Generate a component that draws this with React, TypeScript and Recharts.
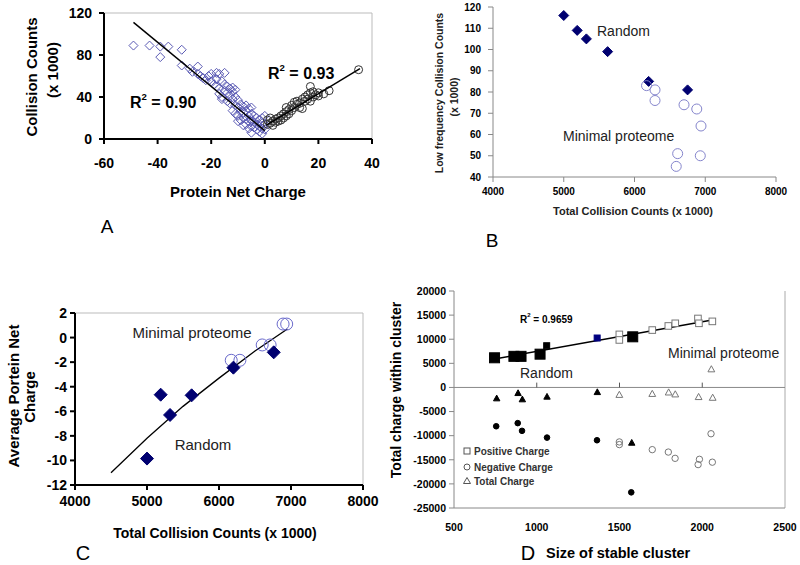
import React from 'react';
import { ScatterChart, Scatter, XAxis, YAxis, ReferenceLine } from 'recharts';

const FONT = '"Liberation Sans", Arial, sans-serif';

// Panel A: collision counts vs protein net charge
const aNegCharge = [-49, -43, -39, -39, -36, -31, -31, -28, -27, -25, -25, -24, -23, -22, -21, -20, -20, -19, -18, -18, -18, -17, -17, -17, -16, -16, -16, -15, -15, -15, -14, -14, -14, -13, -13, -13, -12, -12, -12, -12, -11, -11, -11, -11, -10, -10, -10, -10, -9, -9, -9, -8, -8, -8, -8, -7, -7, -7, -7, -6, -6, -6, -6, -5, -5, -5, -5, -5, -4, -4, -4, -3, -3, -3, -2, -2, -2, -1, -1, -1, -1, 0, 0, 0];
const aNegCounts = [89, 89, 88, 78, 88, 85, 70, 67, 64, 69, 62, 60, 58, 56, 60, 62, 55, 52, 63, 57, 50, 62, 48, 43, 55, 40, 38, 63, 52, 46, 50, 44, 36, 48, 41, 34, 49, 45, 38, 27, 47, 40, 32, 24, 37, 30, 22, 17, 33, 26, 18, 31, 25, 20, 13, 32, 27, 19, 14, 29, 22, 17, 10, 30, 24, 18, 12, 6, 22, 16, 11, 20, 14, 9, 18, 12, 7, 20, 15, 10, 5, 22, 14, 9];
const aPosCharge = [1, 1, 2, 2, 3, 3, 4, 4, 5, 5, 6, 6, 7, 7, 8, 8, 8, 9, 9, 10, 10, 11, 11, 12, 12, 13, 13, 14, 14, 15, 15, 16, 16, 17, 17, 17, 18, 18, 19, 20, 20, 22, 24, 35];
const aPosCounts = [18, 14, 20, 15, 17, 13, 19, 16, 20, 17, 22, 18, 24, 20, 30, 26, 22, 28, 24, 32, 27, 35, 30, 36, 33, 34, 30, 38, 29, 40, 36, 42, 38, 50, 44, 36, 45, 40, 42, 44, 41, 43, 46, 66];
const aNegFitX = [-49, 0];
const aNegFitY = [111, 8];
const aPosFitX = [0.5, 35.5];
const aPosFitY = [13, 67];
const aXTicks = [-60, -40, -20, 0, 20, 40];
const aYTicks = [0, 40, 80, 120];

// Panel B: low frequency vs total collision counts
const bRandomTotal = [5000, 5190, 5320, 5620, 6200, 6750];
const bRandomLow = [116, 109, 105, 99, 85, 81];
const bMinimalTotal = [6170, 6290, 6290, 6700, 6880, 6940, 6610, 6590, 6930];
const bMinimalLow = [83, 81, 76, 74, 72, 64, 51, 45, 50];
const bXTicks = [4000, 5000, 6000, 7000, 8000];
const bYTicks = [40, 50, 60, 70, 80, 90, 100, 110, 120];

// Panel C: average net charge vs total collision counts
const cRandomTotal = [5000, 5190, 5320, 5620, 6200, 6760];
const cRandomCharge = [-9.85, -4.65, -6.3, -4.7, -2.45, -1.2];
const cMinimalTotal = [6170, 6290, 6600, 6710, 6890, 6940];
const cMinimalCharge = [-1.85, -1.85, -0.6, -0.6, 1.1, 1.1];
const cFitX = [4500, 5000, 5500, 6000, 6500, 6950];
const cFitY = [-11, -8.2, -5.6, -3.3, -1.1, 0.7];
const cXTicks = [4000, 5000, 6000, 7000, 8000];
const cYTicks = [-12, -10, -8, -6, -4, -2, 0, 2];

// Panel D: charge within cluster vs cluster size
const dRandPosSize = [745, 862, 905, 1020, 1580];
const dRandPosCharge = [6150, 6450, 6450, 6900, 10500];
const dRandPosSmallSize = [1060];
const dRandPosSmallCharge = [8650];
const dRandPosNavySize = [1365];
const dRandPosNavyCharge = [10250];
const dMinPosSize = [1499, 1499, 1698, 1795, 1837, 1974, 1980, 2061];
const dMinPosCharge = [11000, 9850, 11900, 12750, 13300, 14300, 13300, 13700];
const dRandNegSize = [755, 885, 911, 1062, 1364, 1571];
const dRandNegCharge = [-8050, -7400, -9000, -10400, -10950, -21750];
const dMinNegSize = [1499, 1499, 1698, 1795, 1836, 1983, 1975, 2061, 2053];
const dMinNegCharge = [-11300, -11850, -12900, -13400, -14700, -14900, -16000, -15500, -9600];
const dRandTotSize = [758, 887, 913, 1062, 1366, 1574];
const dRandTotCharge = [-2250, -1150, -2450, -1900, -950, -11450];
const dMinTotSize = [1499, 1698, 1797, 1837, 1978, 2063, 2055];
const dMinTotCharge = [-1500, -1300, -1000, -1400, -1950, -2100, 3800];
const dFitX = [745, 2060];
const dFitY = [5900, 14000];
const dXTicks = [500, 1000, 1500, 2000, 2500];
const dYTicks = [-25000, -20000, -15000, -10000, -5000, 0, 5000, 10000, 15000, 20000];
const dZeroTicks = [1000, 1500, 2000];

const pts = (xs: number[], ys: number[]) => xs.map((x, i) => ({ x, y: ys[i] }));

const diamond = (r: number, fill: string, stroke: string, sw = 1) => (p: any) => (
  <path d={`M${p.cx},${p.cy - r}L${p.cx + r},${p.cy}L${p.cx},${p.cy + r}L${p.cx - r},${p.cy}Z`} fill={fill} stroke={stroke} strokeWidth={sw} />
);
const circle = (r: number, fill: string, stroke: string, sw = 1) => (p: any) => (
  <circle cx={p.cx} cy={p.cy} r={r} fill={fill} stroke={stroke} strokeWidth={sw} />
);
const square = (r: number, fill: string, stroke: string, sw = 1) => (p: any) => (
  <rect x={p.cx - r} y={p.cy - r} width={2 * r} height={2 * r} fill={fill} stroke={stroke} strokeWidth={sw} />
);
const triangle = (r: number, fill: string, stroke: string, sw = 1) => (p: any) => (
  <path d={`M${p.cx},${p.cy - r}L${p.cx + r},${p.cy + r * 0.8}L${p.cx - r},${p.cy + r * 0.8}Z`} fill={fill} stroke={stroke} strokeWidth={sw} />
);
const noDot = () => <g />;

const tickBold = (size: number) => ({ fontSize: size, fontWeight: 'bold', fill: '#000', fontFamily: FONT });

function PanelA() {
  return (
    <ScatterChart width={400} height={280} margin={{ top: 13, right: 28, left: 44, bottom: 107 }}>
      <XAxis type="number" dataKey="x" domain={[-60, 40]} ticks={aXTicks} height={34} stroke="#000" strokeWidth={2}
        tickSize={5} tickMargin={14} tick={tickBold(14)} />
      <YAxis type="number" dataKey="y" domain={[0, 120]} ticks={aYTicks} width={60} stroke="#000" strokeWidth={2}
        tickSize={5} tickMargin={7} tick={tickBold(14)} />
      <ReferenceLine y={120} stroke="#bbb" />
      <ReferenceLine x={40} stroke="#bbb" />
      <Scatter data={pts(aNegCharge, aNegCounts)} shape={diamond(4.5, 'none', '#5a5ab4')} isAnimationActive={false} />
      <Scatter data={pts(aPosCharge, aPosCounts)} shape={circle(4, 'none', '#333')} isAnimationActive={false} />
      <Scatter data={pts(aNegFitX, aNegFitY)} line={{ stroke: '#000', strokeWidth: 1.5 }} shape={noDot} isAnimationActive={false} />
      <Scatter data={pts(aPosFitX, aPosFitY)} line={{ stroke: '#000', strokeWidth: 1.5 }} shape={noDot} isAnimationActive={false} />
    </ScatterChart>
  );
}

function PanelB() {
  return (
    <ScatterChart width={400} height={280} margin={{ top: 7, right: 24, left: 53, bottom: 78 }}>
      <XAxis type="number" dataKey="x" domain={[4000, 8000]} ticks={bXTicks} height={25} stroke="#888"
        tickSize={5} tickMargin={6} tick={tickBold(10)} />
      <YAxis type="number" dataKey="y" domain={[40, 120]} ticks={bYTicks} width={40} stroke="#888"
        tickSize={5} tickMargin={7} tick={tickBold(10)} />
      <Scatter data={pts(bRandomTotal, bRandomLow)} shape={diamond(5, '#000070', '#000070')} isAnimationActive={false} />
      <Scatter data={pts(bMinimalTotal, bMinimalLow)} shape={circle(5, 'none', '#8585cc')} isAnimationActive={false} />
    </ScatterChart>
  );
}

function PanelC() {
  return (
    <ScatterChart width={400} height={275} margin={{ top: 23, right: 37, left: 35, bottom: 50 }}>
      <XAxis type="number" dataKey="x" domain={[4000, 8000]} ticks={cXTicks} height={30} stroke="#000" strokeWidth={2}
        tickSize={5} tickMargin={6} tick={tickBold(14)} />
      <YAxis type="number" dataKey="y" domain={[-12, 2]} ticks={cYTicks} width={40} stroke="#000" strokeWidth={2}
        tickSize={5} tickMargin={3} tick={tickBold(14)} />
      <ReferenceLine y={2} stroke="#bbb" />
      <ReferenceLine x={8000} stroke="#bbb" />
      <Scatter data={pts(cFitX, cFitY)} line={{ stroke: '#000', strokeWidth: 1.3 }} lineType="joint" shape={noDot} isAnimationActive={false} />
      <Scatter data={pts(cMinimalTotal, cMinimalCharge)} shape={circle(6, 'none', '#6a6acc')} isAnimationActive={false} />
      <Scatter data={pts(cRandomTotal, cRandomCharge)} shape={diamond(6.5, '#000070', '#000070')} isAnimationActive={false} />
    </ScatterChart>
  );
}

function PanelD() {
  return (
    <ScatterChart width={400} height={285} margin={{ top: 11, right: 15, left: 4, bottom: 32 }}>
      <XAxis type="number" dataKey="x" domain={[500, 2500]} ticks={dXTicks} height={25} stroke="#888"
        tickLine={false} tickMargin={10} tick={tickBold(10.5)} />
      <YAxis type="number" dataKey="y" domain={[-25000, 20000]} ticks={dYTicks} width={50} stroke="#888"
        tickSize={5} tickMargin={3} tick={tickBold(10.5)} />
      <ReferenceLine x={2500} stroke="#aaa" />
      <ReferenceLine y={0} stroke="#888" />
      {dZeroTicks.map((t) => (
        <ReferenceLine key={t} segment={[{ x: t, y: 0 }, { x: t, y: 1000 }]} stroke="#555" />
      ))}
      <Scatter data={pts(dFitX, dFitY)} line={{ stroke: '#000', strokeWidth: 1.5 }} shape={noDot} isAnimationActive={false} />
      <Scatter data={pts(dRandPosSize, dRandPosCharge)} shape={square(5, '#000', '#000')} isAnimationActive={false} />
      <Scatter data={pts(dRandPosSmallSize, dRandPosSmallCharge)} shape={square(3, '#000', '#000')} isAnimationActive={false} />
      <Scatter data={pts(dRandPosNavySize, dRandPosNavyCharge)} shape={square(3, '#000080', '#000080')} isAnimationActive={false} />
      <Scatter data={pts(dMinPosSize, dMinPosCharge)} shape={square(3.3, '#fff', '#777')} isAnimationActive={false} />
      <Scatter data={pts(dRandNegSize, dRandNegCharge)} shape={circle(2.8, '#000', '#000')} isAnimationActive={false} />
      <Scatter data={pts(dMinNegSize, dMinNegCharge)} shape={circle(3.2, 'none', '#777')} isAnimationActive={false} />
      <Scatter data={pts(dRandTotSize, dRandTotCharge)} shape={triangle(3.2, '#000', '#000')} isAnimationActive={false} />
      <Scatter data={pts(dMinTotSize, dMinTotCharge)} shape={triangle(3.4, 'none', '#777')} isAnimationActive={false} />
    </ScatterChart>
  );
}

function Sup({ x, y, size, value }: { x: number; y: number; size: number; value: string }) {
  return (
    <text x={x} y={y} fontSize={size} fontWeight="bold" dominantBaseline="central">
      R<tspan fontSize={size * 0.6} dy={-size * 0.4}>2</tspan>
      <tspan dy={size * 0.4}>{' = ' + value}</tspan>
    </text>
  );
}

export default function App() {
  return (
    <div style={{ position: 'absolute', left: 0, top: 0, width: 800, height: 565, background: '#fff', fontFamily: FONT }}>
      <div style={{ position: 'absolute', left: 0, top: 0 }}><PanelA /></div>
      <div style={{ position: 'absolute', left: 400, top: 0 }}><PanelB /></div>
      <div style={{ position: 'absolute', left: 0, top: 290 }}><PanelC /></div>
      <div style={{ position: 'absolute', left: 400, top: 280 }}><PanelD /></div>
      <svg width={800} height={565} style={{ position: 'absolute', left: 0, top: 0, pointerEvents: 'none' }} fontFamily={FONT} fill="#000">
        {/* A */}
        <text x={31} y={77} fontSize={15} fontWeight="bold" textAnchor="middle" dominantBaseline="central" transform="rotate(-90 31 77)">Collision Counts</text>
        <text x={52} y={70} fontSize={15} fontWeight="bold" textAnchor="middle" dominantBaseline="central" transform="rotate(-90 52 70)">(x 1000)</text>
        <text x={238} y={191} fontSize={15} fontWeight="bold" textAnchor="middle" dominantBaseline="central">Protein Net Charge</text>
        <text x={107} y={226} fontSize={19} textAnchor="middle" dominantBaseline="central">A</text>
        <Sup x={130} y={102} size={16} value="0.90" />
        <Sup x={268} y={73} size={16} value="0.93" />
        {/* B */}
        <text x={439} y={93} fontSize={10.5} fontWeight="bold" textAnchor="middle" dominantBaseline="central" transform="rotate(-90 439 93)" fill="#222">Low frequency Collision Counts</text>
        <text x={454} y={97} fontSize={10.5} fontWeight="bold" textAnchor="middle" dominantBaseline="central" transform="rotate(-90 454 97)" fill="#222">(x 1000)</text>
        <text x={633} y={211} fontSize={11} fontWeight="bold" textAnchor="middle" dominantBaseline="central" fill="#222">Total Collision Counts (x 1000)</text>
        <text x={597} y={31} fontSize={14} dominantBaseline="central" fill="#222">Random</text>
        <text x={563} y={136} fontSize={14} dominantBaseline="central" fill="#222">Minimal proteome</text>
        <text x={492} y={240} fontSize={19} textAnchor="middle" dominantBaseline="central">B</text>
        {/* C */}
        <text x={13} y={396} fontSize={15} fontWeight="bold" textAnchor="middle" dominantBaseline="central" transform="rotate(-90 13 396)">Average Portein Net</text>
        <text x={29} y={397} fontSize={15} fontWeight="bold" textAnchor="middle" dominantBaseline="central" transform="rotate(-90 29 397)">Charge</text>
        <text x={215} y={533} fontSize={14} fontWeight="bold" textAnchor="middle" dominantBaseline="central">Total Collision Counts (x 1000)</text>
        <text x={192} y={332} fontSize={15} textAnchor="middle" dominantBaseline="central" fill="#222">Minimal proteome</text>
        <text x={203} y={444} fontSize={15} textAnchor="middle" dominantBaseline="central" fill="#222">Random</text>
        <text x={83} y={553} fontSize={20} textAnchor="middle" dominantBaseline="central">C</text>
        {/* D */}
        <text x={396} y={390} fontSize={14} fontWeight="bold" textAnchor="middle" dominantBaseline="central" transform="rotate(-90 396 390)">Total charge within cluster</text>
        <text x={528} y={553} fontSize={20} textAnchor="middle" dominantBaseline="central">D</text>
        <text x={546} y={553} fontSize={14.5} fontWeight="bold" dominantBaseline="central">Size of stable cluster</text>
        <Sup x={520} y={319} size={10} value="0.9659" />
        <text x={520} y={373} fontSize={14} dominantBaseline="central" fill="#222">Random</text>
        <text x={668} y={353} fontSize={14} dominantBaseline="central" fill="#222">Minimal proteome</text>
        <rect x={464} y={448} width={6} height={6} fill="none" stroke="#555" />
        <circle cx={467} cy={467} r={3} fill="none" stroke="#555" />
        <path d="M467,477.5L470.5,483.5L463.5,483.5Z" fill="none" stroke="#555" />
        <text x={474} y={451} fontSize={10} fontWeight="bold" dominantBaseline="central" fill="#333">Positive Charge</text>
        <text x={474} y={467} fontSize={10} fontWeight="bold" dominantBaseline="central" fill="#333">Negative Charge</text>
        <text x={474} y={481} fontSize={10} fontWeight="bold" dominantBaseline="central" fill="#333">Total Charge</text>
      </svg>
    </div>
  );
}
